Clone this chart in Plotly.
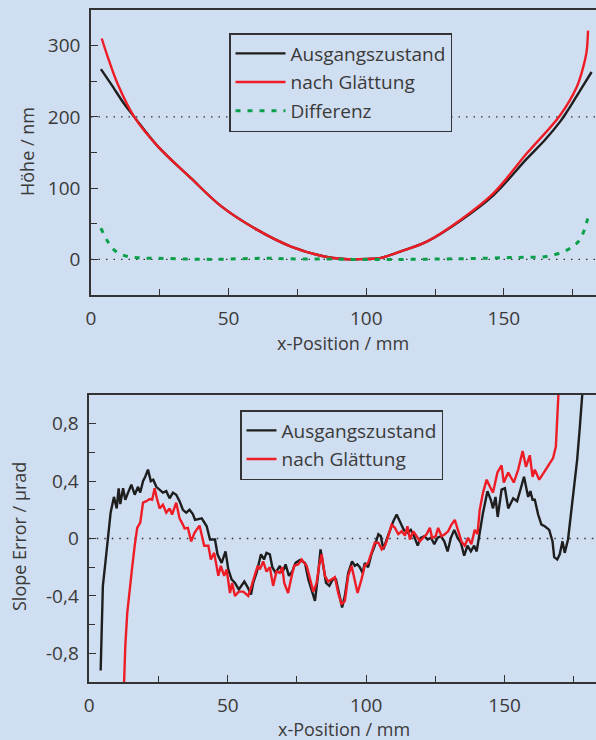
import plotly.graph_objects as go

# ---------------- data: top chart (Höhe / nm) ----------------
top_black_x = [3.6, 7.3, 12.1, 15.7, 24.2, 36.3, 47.5, 60.6, 72.7, 84.8, 92.0, 97.7,
               102.4, 105.0, 112.3, 122.0, 134.1, 146.2, 158.3, 165.0, 170.4, 172.9, 177.7, 181.9]
top_black_y = [267, 246, 218, 200, 159, 114, 74, 41, 18, 4, 0.5, 0.3,
               0.8, 1.7, 11, 25, 54, 90, 141, 168, 193, 207, 237, 263]

top_red_x = [3.9, 6.1, 9.7, 15.7, 24.2, 36.3, 47.5, 60.6, 72.7, 84.8, 92.0, 97.7,
             102.4, 105.0, 112.3, 122.0, 134.1, 146.2, 158.3, 170.4, 176.5, 179.0, 180.1, 180.6]
top_red_y = [310, 284, 246, 200, 159, 114, 74, 41, 18, 4, 0.5, 0.3,
             0.8, 1.7, 11, 25, 55, 92.6, 148.5, 202, 242, 272, 292, 321]

top_diff_x = [3.6, 6.1, 9.1, 13.4, 18.2, 25, 35, 45, 55, 65, 75, 85, 95, 105, 115,
              125, 135, 143.8, 152, 158.3, 165.5, 172.9, 177.1, 179.5, 180.7]
top_diff_y = [44, 25, 11, 4, 2, 1.5, 0.5, 0, 1, 1.5, 0.5, 0.5, 0, 0, 0,
              0.5, 1, 1.7, 2.5, 3, 4, 13, 25, 44, 62]

# ---------------- data: bottom chart (Slope Error / µrad) ----------------
bot_black_x = [4.1, 4.6, 4.9, 5.8, 6.75, 7.7, 8.9, 9.9, 10.6, 11.2, 12.2, 13.0, 14.0, 15.2,
               16.4, 17.6, 18.4, 19.4, 20.2, 21.2, 22.2, 23.1, 24.2, 25.4, 26.6, 27.8, 29.0,
               30.2, 31.4, 32.6, 33.8, 35.0, 36.2, 37.4, 38.2, 40.6, 42.4, 43.6, 45.4, 46.3,
               47.8, 49.2, 50.2, 51.4, 52.6, 54.0, 56.0, 57.2, 58.4, 59.2, 60.4, 62.0, 63.1,
               64.0, 65.2, 66.1, 67.3, 68.8, 69.7, 70.9, 72.1, 73.3, 74.5, 76.1, 77.9, 79.1,
               80.3, 81.5, 82.7, 83.5, 84.5, 85.5, 86.7, 87.9, 89.1, 90.3, 91.3, 92.3, 93.5,
               94.9, 95.9, 96.8, 97.7, 98.7, 99.5, 100.7, 101.9, 103.1, 104.4, 105.3, 106.2,
               107.4, 108.6, 109.8, 111.0, 112.2, 113.6, 114.8, 116.1, 117.3, 118.6, 119.7,
               121.0, 122.2, 123.4, 124.6, 125.8, 127.0, 128.2, 129.4, 130.6, 131.8, 133.0,
               134.2, 135.4, 136.6, 137.8, 139.0, 139.9, 141.0, 142.2, 143.8, 145.0, 145.8,
               146.7, 147.5, 148.9, 150.1, 151.3, 153.1, 154.5, 155.7, 157.0, 158.5, 159.3,
               160.1, 160.9, 162.1, 163.3, 164.5, 166.1, 167.3, 167.9, 169.0, 169.9, 170.9,
               171.7, 172.9, 174.1, 175.3, 176.2, 177.1, 178.1, 178.6]
bot_black_y = [-0.92, -0.52, -0.33, -0.17, 0.02, 0.18, 0.29, 0.21, 0.35, 0.24, 0.35, 0.27, 0.32, 0.375,
               0.305, 0.36, 0.32, 0.40, 0.43, 0.48, 0.40, 0.41, 0.36, 0.34, 0.32, 0.33, 0.28,
               0.32, 0.305, 0.26, 0.20, 0.18, 0.20, 0.17, 0.13, 0.14, 0.085, -0.007, -0.007, -0.11,
               -0.17, -0.09, -0.215, -0.285, -0.31, -0.355, -0.30, -0.34, -0.39, -0.31, -0.24, -0.11, -0.146,
               -0.10, -0.11, -0.20, -0.24, -0.19, -0.24, -0.18, -0.26, -0.23, -0.17, -0.15, -0.17, -0.285,
               -0.355, -0.435, -0.24, -0.076, -0.19, -0.31, -0.33, -0.285, -0.285, -0.40, -0.48, -0.40, -0.24,
               -0.16, -0.19, -0.18, -0.20, -0.24, -0.17, -0.20, -0.11, -0.05, 0.03, 0.016, -0.076,
               -0.007, 0.06, 0.12, 0.167, 0.12, 0.06, 0.04, 0.06, 0.016, -0.05, 0.005,
               0.016, -0.007, 0.005, -0.04, 0.005, 0.016, -0.02, -0.09, 0.005, 0.06, 0.005,
               -0.03, -0.12, -0.05, -0.09, -0.05, -0.09, 0.04, 0.18, 0.33, 0.27, 0.21,
               0.29, 0.15, 0.34, 0.35, 0.21, 0.28, 0.26, 0.34, 0.43, 0.29, 0.33,
               0.27, 0.27, 0.167, 0.097, 0.085, 0.06, -0.02, -0.13, -0.146, -0.11, -0.02,
               -0.10, -0.007, 0.19, 0.36, 0.55, 0.76, 0.99, 1.15]

bot_red_x = [12.4, 13.0, 13.7, 14.6, 15.4, 16.4, 17.3, 18.4, 19.4, 20.6, 21.8, 22.7, 23.6, 24.4,
             25.4, 26.6, 27.8, 29.0, 29.9, 31.4, 32.6, 33.8, 34.4, 35.6, 36.8, 38.0, 39.8, 41.5,
             43.0, 43.9, 45.1, 46.6, 47.5, 48.7, 49.6, 50.8, 51.6, 52.6, 54.0, 55.6, 57.4, 58.6,
             59.6, 60.8, 61.6, 62.8, 64.0, 65.2, 66.4, 67.6, 68.8, 69.7, 70.4, 71.8, 73.1, 74.0,
             75.5, 76.7, 78.5, 79.7, 80.9, 82.1, 83.0, 83.9, 85.1, 86.3, 87.5, 88.7, 89.9, 91.1,
             92.3, 93.5, 94.7, 95.9, 96.9, 98.3, 99.5, 100.7, 101.9, 103.1, 104.4, 105.6, 106.8,
             107.6, 109.2, 110.4, 111.6, 112.8, 114.0, 114.9, 115.8, 117.0, 118.2, 119.4, 120.6,
             121.8, 123.0, 123.8, 125.1, 126.0, 127.2, 128.4, 129.6, 130.8, 132.0, 133.2, 134.4,
             135.6, 136.8, 138.0, 139.2, 140.2, 141.0, 142.2, 143.5, 144.7, 145.8, 147.4, 148.9,
             149.7, 151.3, 153.3, 154.9, 156.5, 157.7, 159.1, 160.1, 160.9, 162.5, 164.5, 167.5,
             168.5, 169.0, 169.5, 169.8]
bot_red_y = [-1.1, -0.75, -0.52, -0.38, -0.215, -0.05, 0.074, 0.11, 0.25, 0.26, 0.275, 0.27, 0.35, 0.28,
             0.21, 0.235, 0.18, 0.21, 0.167, 0.25, 0.14, 0.097, 0.07, 0.074, -0.02, 0.04, 0.09, -0.05,
             -0.05, -0.146, -0.10, -0.26, -0.19, -0.26, -0.215, -0.38, -0.31, -0.40, -0.37, -0.37, -0.40, -0.33,
             -0.26, -0.19, -0.215, -0.16, -0.23, -0.20, -0.33, -0.23, -0.24, -0.20, -0.31, -0.38, -0.26, -0.19,
             -0.18, -0.146, -0.19, -0.285, -0.37, -0.31, -0.19, -0.11, -0.26, -0.30, -0.285, -0.27, -0.38, -0.46,
             -0.435, -0.26, -0.19, -0.285, -0.38, -0.285, -0.19, -0.17, -0.10, -0.03, -0.03, -0.076, -0.05,
             -0.007, 0.097, 0.074, 0.03, 0.05, 0.02, 0.085, -0.007, 0.05, 0.016, -0.02, 0.005,
             0.03, 0.074, 0.005, 0.016, 0.074, 0.016, 0.03, 0.05, 0.097, 0.13, 0.06, -0.02,
             -0.05, 0.005, -0.04, 0.06, 0.03, 0.20, 0.32, 0.41, 0.36, 0.32, 0.46, 0.51,
             0.39, 0.46, 0.39, 0.48, 0.61, 0.50, 0.58, 0.43, 0.48, 0.41, 0.47, 0.56,
             0.64, 0.80, 0.99, 1.15]

top_yticks = [0, 100, 200, 300]
top_ytick_labels = ["0", "100", "200", "300"]
bot_yticks = [-0.8, -0.4, 0, 0.4, 0.8]
bot_ytick_labels = ["-0,8", "-0,4", "0", "0,4", "0,8"]
xticks = [0, 50, 100, 150]
xtick_labels = ["0", "50", "100", "150"]
top_ref_lines = [0, 200]
bot_ref_lines = [0]

names = ["Ausgangszustand", "nach Glättung", "Differenz"]

# ---------------- styling ----------------
W, H = 596, 740
BG = "#d0def1"
AX = "#333333"
TXT = "#3a3a3a"
FONT = "Open Sans"
BLACK = "#1e1e1e"
RED = "#ee1c25"
GREEN = "#0aa04a"
TICK_SIZE = 19
LEG_SIZE = 19
TITLE_SIZE = 18


def px_x(p):
    return p / W


def px_y(p):
    return 1 - p / H


fig = go.Figure()

fig.add_trace(go.Scatter(x=top_black_x, y=top_black_y, mode="lines", name=names[0],
                         line=dict(color=BLACK, width=2.4, shape="spline", smoothing=1),
                         xaxis="x", yaxis="y", legend="legend", legendgroup="a"))
fig.add_trace(go.Scatter(x=top_red_x, y=top_red_y, mode="lines", name=names[1],
                         line=dict(color=RED, width=2.4, shape="spline", smoothing=1),
                         xaxis="x", yaxis="y", legend="legend", legendgroup="b"))
fig.add_trace(go.Scatter(x=top_diff_x, y=top_diff_y, mode="lines", name=names[2],
                         line=dict(color=GREEN, width=3, dash="5px,7px", shape="spline", smoothing=1),
                         xaxis="x", yaxis="y", legend="legend", legendgroup="c"))

fig.add_trace(go.Scatter(x=bot_black_x, y=bot_black_y, mode="lines", name=names[0],
                         line=dict(color=BLACK, width=2.4), xaxis="x2", yaxis="y2",
                         legend="legend2", legendgroup="d"))
fig.add_trace(go.Scatter(x=bot_red_x, y=bot_red_y, mode="lines", name=names[1],
                         line=dict(color=RED, width=2.4), xaxis="x2", yaxis="y2",
                         legend="legend2", legendgroup="e"))

shapes = []
for v in top_ref_lines:
    shapes.append(dict(type="line", xref="x domain", yref="y", x0=0, x1=1, y0=v, y1=v,
                       line=dict(color=AX, width=1.3, dash="1.5px,6px"), layer="below"))
for v in bot_ref_lines:
    shapes.append(dict(type="line", xref="x2 domain", yref="y2", x0=0, x1=1, y0=v, y1=v,
                       line=dict(color=AX, width=1.3, dash="1.5px,6px"), layer="below"))

axis_common = dict(showline=True, linecolor=AX, linewidth=1.5, ticks="inside", ticklen=7,
                   tickwidth=1.3, tickcolor=AX, showgrid=False, zeroline=False,
                   tickfont=dict(family=FONT, size=TICK_SIZE, color=TXT), automargin=False,
                   ticklabelstandoff=5)

fig.update_layout(
    width=W, height=H,
    margin=dict(l=0, r=0, t=0, b=0),
    paper_bgcolor=BG, plot_bgcolor="rgba(0,0,0,0)",
    font=dict(family=FONT, color=TXT),
    showlegend=True,
    shapes=shapes,
    xaxis=dict(axis_common, domain=[px_x(91), 1], range=[0, 183.5], anchor="y",
               tickvals=xticks, ticktext=xtick_labels, mirror=True,
               minor=dict(ticks="inside", dtick=25, ticklen=6, tickcolor=AX, tickwidth=1.2)),
    yaxis=dict(axis_common, domain=[px_y(295), px_y(10)], range=[-50, 350], anchor="x",
               tickvals=top_yticks, ticktext=top_ytick_labels,
               minor=dict(ticks="inside", dtick=50, ticklen=6, tickcolor=AX, tickwidth=1.2)),
    xaxis2=dict(axis_common, domain=[px_x(89.3), 1], range=[0, 183], anchor="y2",
                tickvals=xticks, ticktext=xtick_labels, mirror=True,
                minor=dict(ticks="inside", dtick=25, ticklen=6, tickcolor=AX, tickwidth=1.2)),
    yaxis2=dict(axis_common, domain=[px_y(682), px_y(395)], range=[-1, 1], anchor="x2",
                tickvals=bot_yticks, ticktext=bot_ytick_labels,
                minor=dict(ticks="inside", dtick=0.2, ticklen=6, tickcolor=AX, tickwidth=1.2)),
    legend=dict(x=px_x(229), y=px_y(33), xanchor="left", yanchor="top",
                bgcolor=BG, bordercolor=AX, borderwidth=1.5,
                font=dict(family=FONT, size=LEG_SIZE, color=TXT), tracegroupgap=1,
                itemwidth=50),
    legend2=dict(x=px_x(240), y=px_y(410), xanchor="left", yanchor="top",
                 bgcolor=BG, bordercolor=AX, borderwidth=1.5,
                 font=dict(family=FONT, size=LEG_SIZE, color=TXT), tracegroupgap=1,
                 itemwidth=30),
    annotations=[
        dict(text="Höhe / nm", xref="paper", yref="paper", x=px_x(27), y=px_y(152),
             showarrow=False, textangle=-90, font=dict(family=FONT, size=TITLE_SIZE, color=TXT),
             xanchor="center", yanchor="middle"),
        dict(text="x-Position / mm", xref="paper", yref="paper", x=px_x(343), y=px_y(343),
             showarrow=False, font=dict(family=FONT, size=TITLE_SIZE, color=TXT),
             xanchor="center", yanchor="middle"),
        dict(text="Slope Error / µrad", xref="paper", yref="paper", x=px_x(19), y=px_y(537),
             showarrow=False, textangle=-90, font=dict(family=FONT, size=TITLE_SIZE, color=TXT),
             xanchor="center", yanchor="middle"),
        dict(text="x-Position / mm", xref="paper", yref="paper", x=px_x(344), y=px_y(729),
             showarrow=False, font=dict(family=FONT, size=TITLE_SIZE, color=TXT),
             xanchor="center", yanchor="middle"),
    ],
)

fig.write_html("out.html", config={"displayModeBar": False})

# remove the browser's default page margin so the figure fills the window exactly
with open("out.html", "r", encoding="utf-8") as f:
    html = f.read()
html = html.replace("<head>", "<head><style>html,body{margin:0;padding:0;overflow:hidden;}</style>", 1)
with open("out.html", "w", encoding="utf-8") as f:
    f.write(html)
